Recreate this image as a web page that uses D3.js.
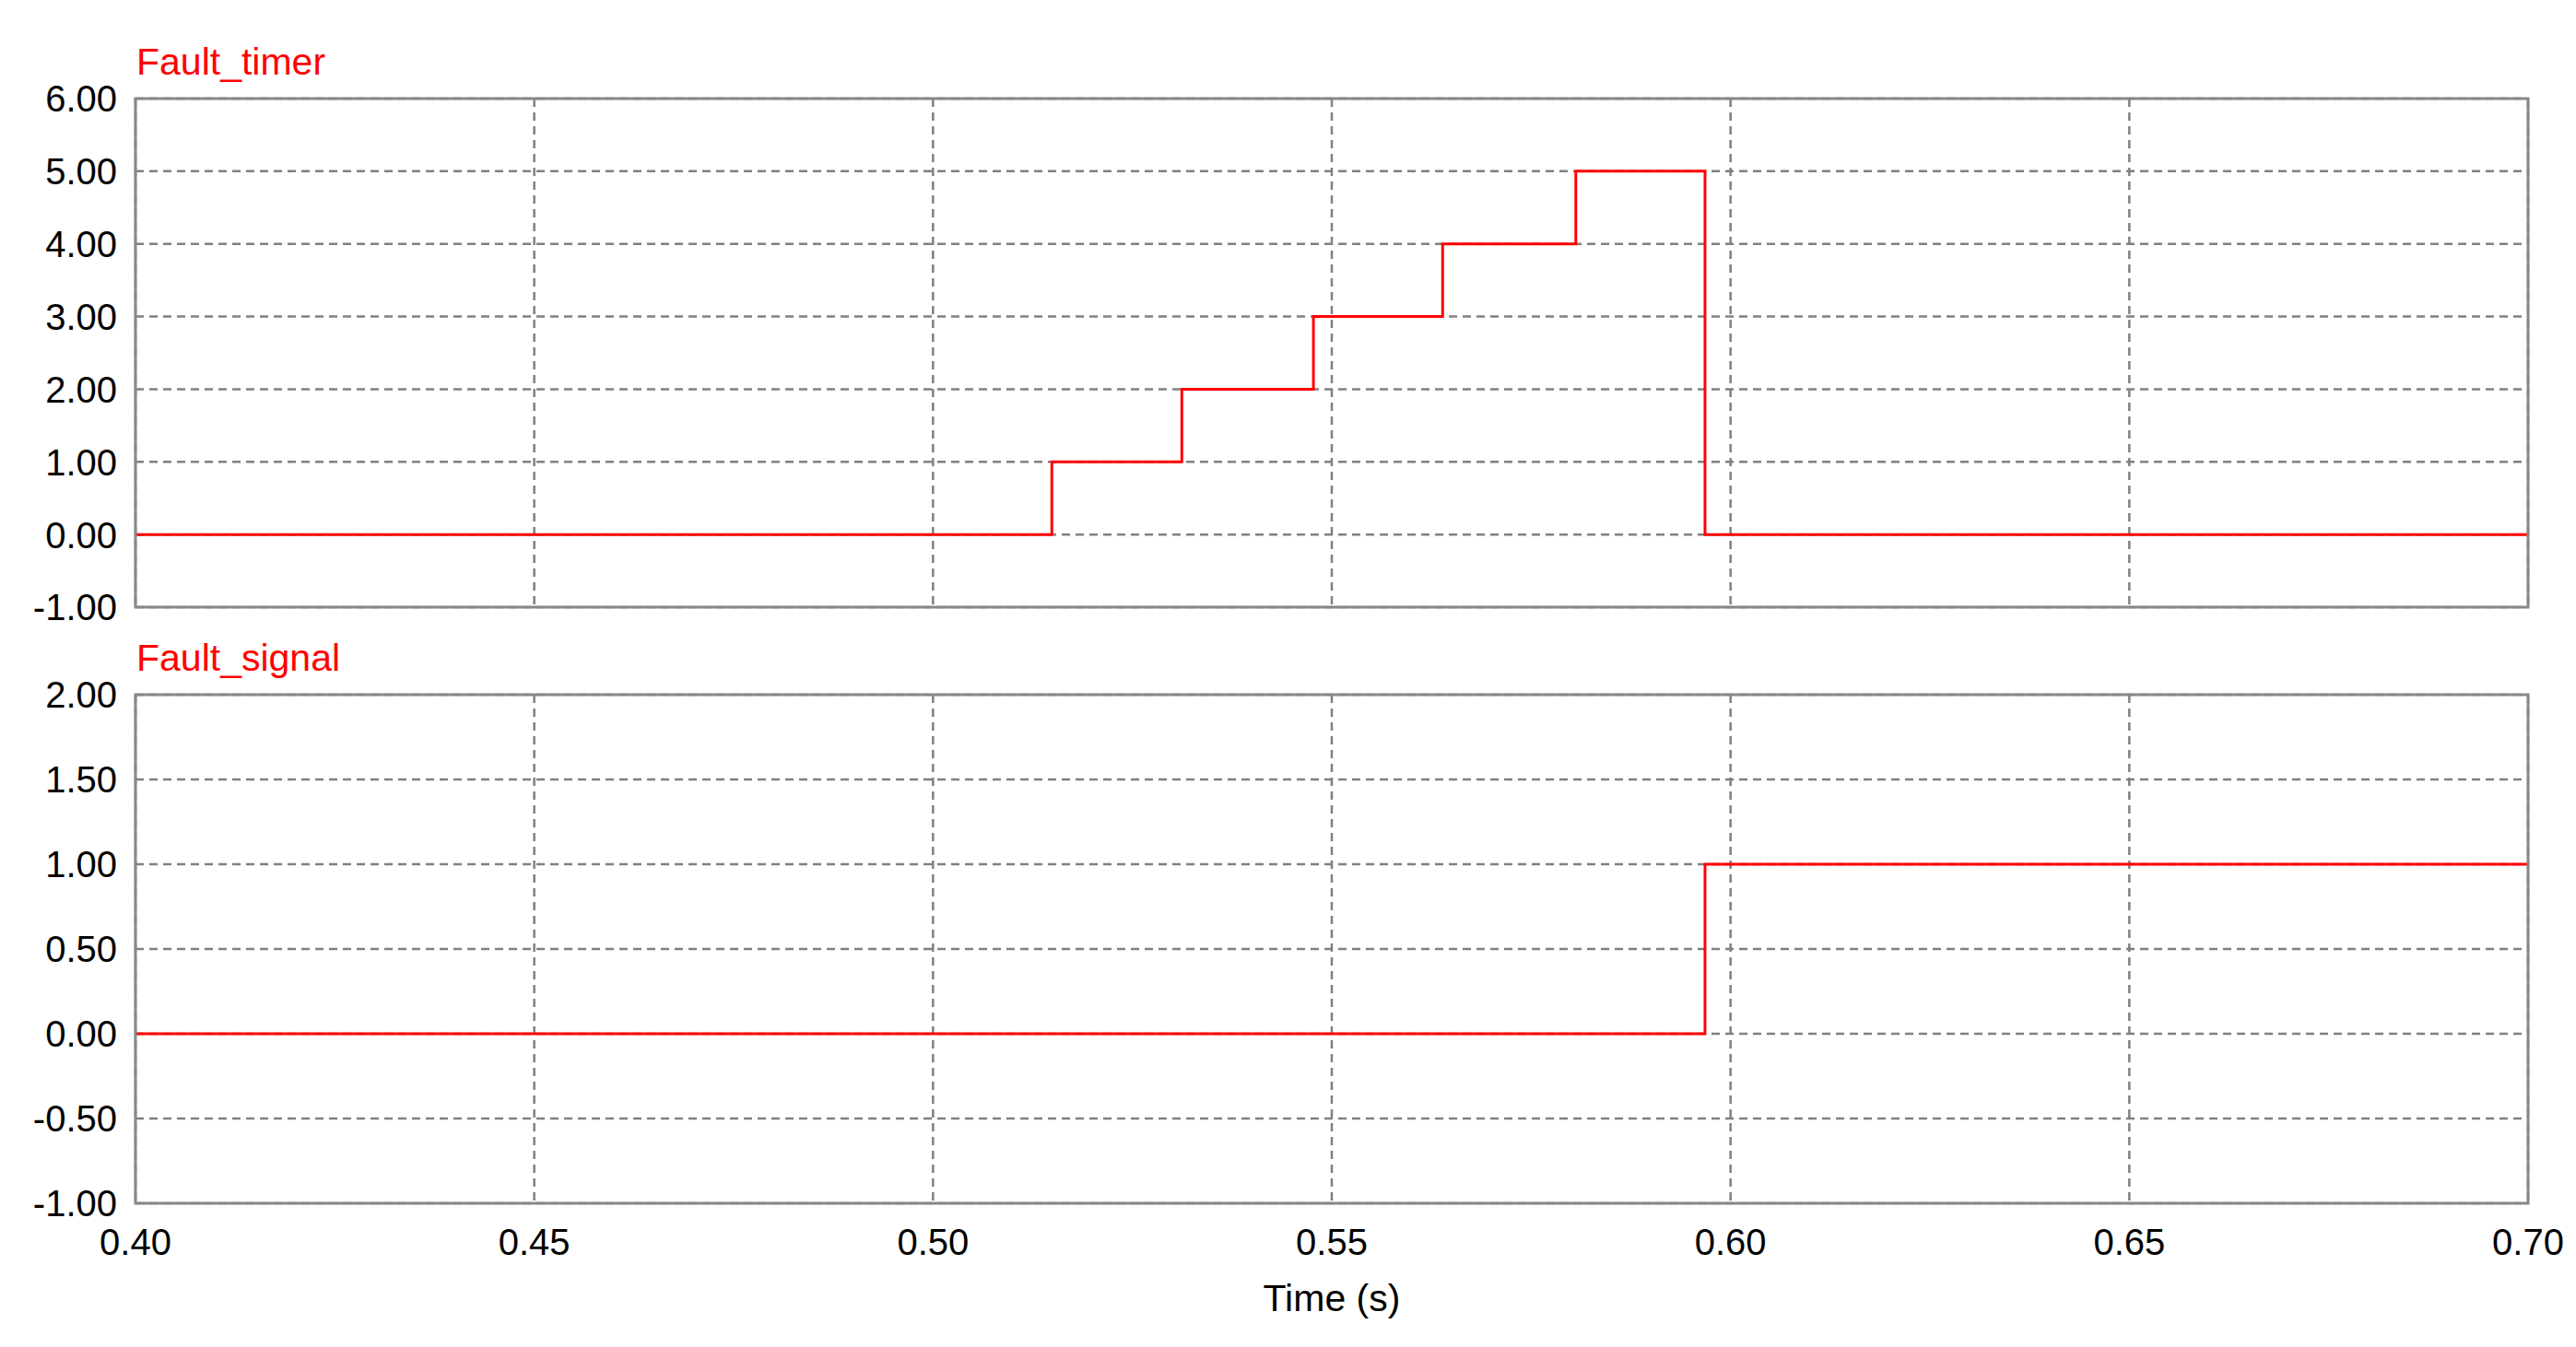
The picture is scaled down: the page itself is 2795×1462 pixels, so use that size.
<!DOCTYPE html>
<html>
<head>
<meta charset="utf-8">
<script src="https://cdn.jsdelivr.net/npm/d3@7"></script>
<style>
  body { margin: 0; background: #fff; }
  svg { display: block; font-family: "Liberation Sans", Arial, sans-serif; }
</style>
</head>
<body>
<svg id="chart" width="2795" height="1462"></svg>
<script>
const xTicks = [0.40, 0.45, 0.50, 0.55, 0.60, 0.65, 0.70];

// Fault_timer: step points [time, value]
const timerTimes = [0.40, 0.5149, 0.5312, 0.5477, 0.5639, 0.5806, 0.5968, 0.70];
const timerValues = [0, 1, 2, 3, 4, 5, 0, 0];
const timerTicks = [-1, 0, 1, 2, 3, 4, 5, 6];

// Fault_signal
const signalTimes = [0.40, 0.5968, 0.70];
const signalValues = [0, 1, 1];
const signalTicks = [-1, -0.5, 0, 0.5, 1, 1.5, 2];

const width = 2795;
const left = 147, right = 2743;

const svg = d3.select("#chart");

const x = d3.scaleLinear().domain([0.40, 0.70]).range([left, right]);

const panels = [
  { name: "Fault_timer", times: timerTimes, values: timerValues, ticks: timerTicks, top: 107, bottom: 659 },
  { name: "Fault_signal", times: signalTimes, values: signalValues, ticks: signalTicks, top: 754, bottom: 1306 },
];

panels.forEach((p, i) => {
  const y = d3.scaleLinear()
    .domain(d3.extent(p.ticks))
    .range([p.bottom, p.top]);

  const g = svg.append("g");

  // grid
  g.selectAll(".hgrid")
    .data(p.ticks)
    .join("line")
    .attr("x1", left).attr("x2", right)
    .attr("y1", (d) => y(d)).attr("y2", (d) => y(d))
    .attr("stroke", "#808080")
    .attr("stroke-width", 2.5)
    .attr("stroke-dasharray", "9,6");

  g.selectAll(".vgrid")
    .data(xTicks)
    .join("line")
    .attr("x1", (d) => x(d)).attr("x2", (d) => x(d))
    .attr("y1", p.top).attr("y2", p.bottom)
    .attr("stroke", "#808080")
    .attr("stroke-width", 2.5)
    .attr("stroke-dasharray", "9,6");

  // y labels
  g.selectAll(".ylab")
    .data(p.ticks)
    .join("text")
    .attr("x", 127)
    .attr("y", (d) => y(d))
    .attr("dy", "0.36em")
    .attr("text-anchor", "end")
    .style("font-size", "40px")
    .style("fill", "#000")
    .text((d) => d3.format(".2f")(d).replace("\u2212", "-"));

  // trace
  const points = p.times.map((t, k) => [t, p.values[k]]);
  const line = d3.line()
    .x((d) => x(d[0]))
    .y((d) => y(d[1]))
    .curve(d3.curveStepAfter);

  g.append("path")
    .datum(points)
    .attr("fill", "none")
    .attr("stroke", "#ff0000")
    .attr("stroke-width", 3)
    .attr("d", line);

  // frame
  g.append("rect")
    .attr("x", left).attr("y", p.top)
    .attr("width", right - left).attr("height", p.bottom - p.top)
    .attr("fill", "none")
    .attr("stroke", "#888888")
    .attr("stroke-width", 3);

  // title
  g.append("text")
    .attr("x", 148)
    .attr("y", p.top - 26)
    .style("font-size", "41px")
    .style("fill", "#ff0000")
    .text(p.name);

  if (i === panels.length - 1) {
    g.selectAll(".xlab")
      .data(xTicks)
      .join("text")
      .attr("x", (d) => x(d))
      .attr("y", 1362)
      .attr("text-anchor", "middle")
      .style("font-size", "40px")
      .text((d) => d3.format(".2f")(d));

    g.append("text")
      .attr("x", (left + right) / 2)
      .attr("y", 1423)
      .attr("text-anchor", "middle")
      .style("font-size", "41px")
      .text("Time (s)");
  }
});
</script>
</body>
</html>
